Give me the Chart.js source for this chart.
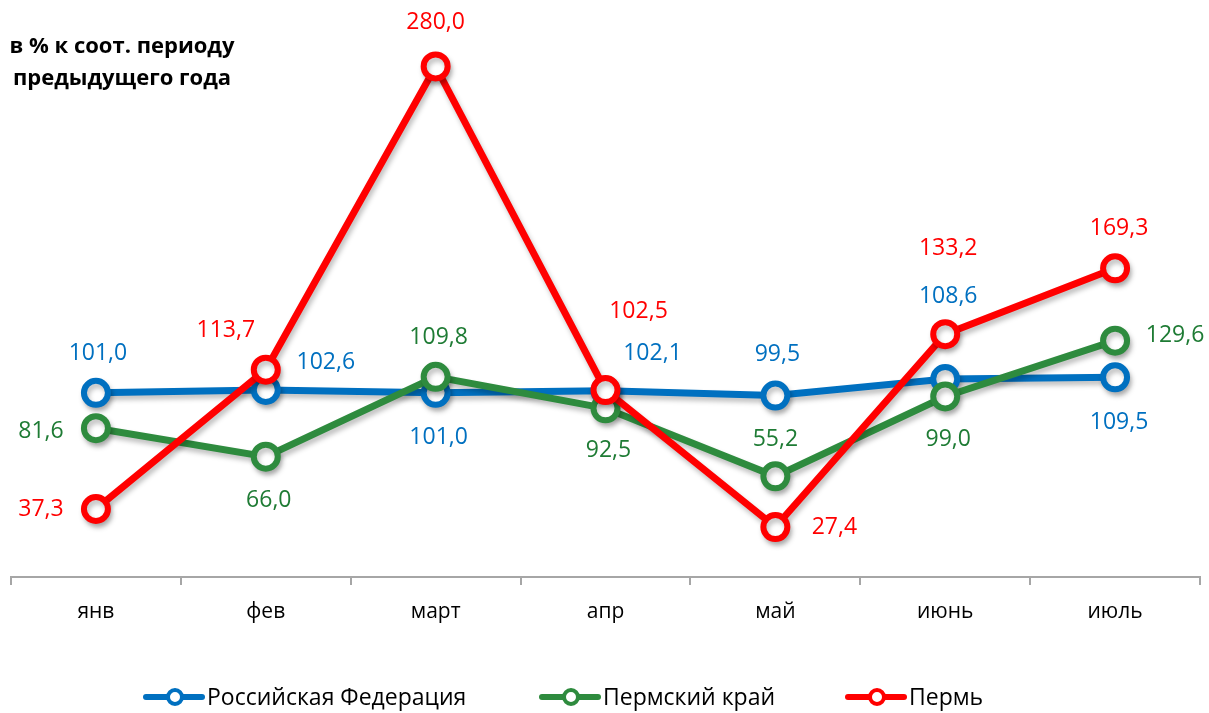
<!DOCTYPE html>
<html>
<head>
<meta charset="utf-8">
<script src="https://cdn.jsdelivr.net/npm/chart.js@4"></script>
<style>
  html, body { margin: 0; padding: 0; background: #fff; }
  #wrap { width: 1209px; height: 713px; position: relative; }
</style>
</head>
<body>
<div id="wrap"><canvas id="growthChart" width="1209" height="713"></canvas></div>
<script>
// categories and values
const months = ['янв', 'фев', 'март', 'апр', 'май', 'июнь', 'июль'];
const rfValues = [101.0, 102.6, 101.0, 102.1, 99.5, 108.6, 109.5];
const kraiValues = [81.6, 66.0, 109.8, 92.5, 55.2, 99.0, 129.6];
const permValues = [37.3, 113.7, 280.0, 102.5, 27.4, 133.2, 169.3];
const seriesNames = ['Российская Федерация', 'Пермский край', 'Пермь'];

// where each data label sits relative to its point (dx, dy)
const rfLabelPos = [[2, -39], [60, -27], [3, 45], [47, -37], [2, -41], [3, -83], [4, 45]];
const kraiLabelPos = [[-55, 3], [3, 44], [3, -39], [3, 42], [0, -37], [3, 43], [60, -5]];
const permLabelPos = [[-55, 0], [-40, -39], [0, -44], [33, -79], [59, 0], [3, -86], [4, -40]];

const blue = '#0070C0', green = '#2E8B3E', red = '#FF0000';

function makeSet(label, data, color, order) {
    return {
        label: label,
        data: data,
        borderColor: color,
        backgroundColor: '#ffffff',
        borderWidth: 7,
        pointRadius: 12,
        pointHoverRadius: 12,
        pointBorderWidth: 6,
        pointBackgroundColor: '#ffffff',
        pointBorderColor: color,
        tension: 0,
        order: order
    };
}

const labelPlugin = {
    id: 'valueLabels',
    beforeDatasetDraw(chart) {
        const ctx = chart.ctx;
        ctx.save();
        ctx.shadowColor = 'rgba(0,0,0,0.25)';
        ctx.shadowBlur = 5;
        ctx.shadowOffsetX = 2;
        ctx.shadowOffsetY = 4;
    },
    afterDatasetDraw(chart) {
        chart.ctx.restore();
    },
    afterDraw(chart) {
        const ctx = chart.ctx;
        const positions = [rfLabelPos, kraiLabelPos, permLabelPos];
        const labelColors = [blue, '#1E7B34', red];
        ctx.save();
        ctx.font = '23px "Open Sans"';
        ctx.textAlign = 'center';
        ctx.textBaseline = 'middle';
        chart.data.datasets.forEach((ds, i) => {
            const meta = chart.getDatasetMeta(i);
            ctx.fillStyle = labelColors[i];
            meta.data.forEach((pt, j) => {
                const p = positions[i][j];
                ctx.fillText(ds.data[j].toFixed(1).replace('.', ','), pt.x + p[0], pt.y + p[1]);
            });
        });

        // title
        ctx.fillStyle = '#000';
        ctx.font = 'bold 22px "Open Sans"';
        ctx.fillText('в % к соот. периоду', 122, 47);
        ctx.fillText('предыдущего года', 122, 79);

        // legend
        const legendX = [146, 542, 848];
        const colors = [blue, green, red];
        ctx.font = '23px "Open Sans"';
        ctx.textAlign = 'left';
        seriesNames.forEach((name, i) => {
            const x = legendX[i], y = 697;
            ctx.strokeStyle = colors[i];
            ctx.lineWidth = 6;
            ctx.lineCap = 'round';
            ctx.beginPath();
            ctx.moveTo(x, y);
            ctx.lineTo(x + 56, y);
            ctx.stroke();
            ctx.beginPath();
            ctx.arc(x + 29, y, 7, 0, Math.PI * 2);
            ctx.fillStyle = '#fff';
            ctx.fill();
            ctx.lineWidth = 4;
            ctx.stroke();
            ctx.fillStyle = '#000';
            ctx.fillText(name, x + 61, y + 1);
        });
        ctx.restore();
    }
};

const ctx = document.getElementById('growthChart').getContext('2d');
const growthChart = new Chart(ctx, {
    type: 'line',
    data: {
        labels: months,
        datasets: [
            makeSet(seriesNames[0], rfValues, blue, 3),
            makeSet(seriesNames[1], kraiValues, green, 2),
            makeSet(seriesNames[2], permValues, red, 1)
        ]
    },
    options: {
        responsive: false,
        animation: false,
        layout: {
            autoPadding: false,
            padding: { left: 11, right: 9, top: 30, bottom: 0 }
        },
        plugins: {
            legend: { display: false },
            tooltip: { enabled: false }
        },
        scales: {
            x: {
                offset: true,
                grid: {
                    offset: true,
                    drawOnChartArea: false,
                    drawTicks: true,
                    tickLength: 8,
                    color: '#a6a6a6',
                    lineWidth: 2
                },
                border: { display: true, color: '#a6a6a6', width: 2 },
                ticks: {
                    color: '#000',
                    padding: 14,
                    font: { family: 'Open Sans', size: 21 }
                },
                afterFit(scale) {
                    scale.height = 136;
                }
            },
            y: {
                display: false,
                min: 0,
                max: 300
            }
        }
    },
    plugins: [labelPlugin]
});
</script>
</body>
</html>
